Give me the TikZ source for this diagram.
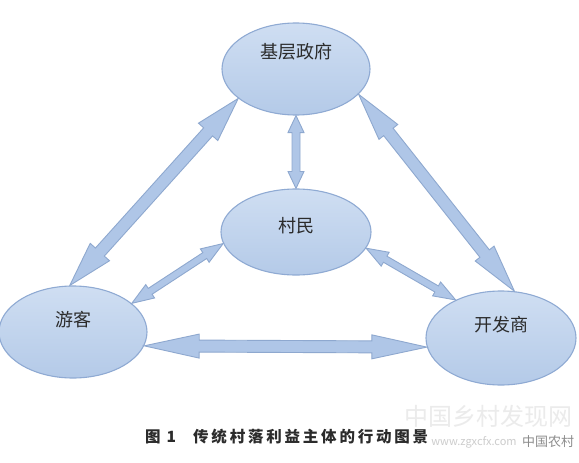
\documentclass[tikz,border=0pt]{standalone}
\usepackage{fontspec}
\setmainfont{Noto Sans CJK SC}
\usetikzlibrary{calc,shapes.geometric}
\definecolor{elltop}{HTML}{CFDEF2}
\definecolor{ellbot}{HTML}{B4CAE8}
\definecolor{elldraw}{HTML}{8FAAD3}
\definecolor{arrfill}{HTML}{AFC6E7}
\definecolor{arrdraw}{HTML}{8EA8CF}
\definecolor{txt}{HTML}{2B2B2B}
\tikzset{
  actor/.style={ellipse, draw=elldraw, line width=1.1pt, top color=elltop, bottom color=ellbot, inner sep=0pt},
  actorlabel/.style={text=txt, font=\fontsize{18}{20}\selectfont, inner sep=0pt},
  blockarrow/.style={draw=arrdraw, fill=arrfill, line width=0.9pt, line join=miter},
  captiontext/.style={text=txt, font=\fontsize{15.5}{18}\selectfont\bfseries, inner sep=0pt, anchor=west},
}
% #1 start, #2 end, #3 shaft half width, #4 head half width, #5 head length
\newcommand\dblblockarrow[5]{%
  \coordinate (ba-p) at ($(#1)!#5!(#2)$);
  \coordinate (ba-q) at ($(#2)!#5!(#1)$);
  \draw[blockarrow] (#1)
    -- ($(ba-p)!#4!90:(#2)$) -- ($(ba-p)!#3!90:(#2)$)
    -- ($(ba-q)!#3!-90:(#1)$) -- ($(ba-q)!#4!-90:(#1)$)
    -- (#2)
    -- ($(ba-q)!#4!90:(#1)$) -- ($(ba-q)!#3!90:(#1)$)
    -- ($(ba-p)!#3!-90:(#2)$) -- ($(ba-p)!#4!-90:(#2)$)
    -- cycle;}
\begin{document}
\begin{tikzpicture}[x=1pt,y=1pt]
\fill[white] (0,0) rectangle (579,-463);
\useasboundingbox (0,0) rectangle (579,-463);

% actors
\node[actor, minimum width=148pt, minimum height=92pt] (gov) at (296,-69) {};
\node[actor, minimum width=150pt, minimum height=86pt] (vil) at (296,-232) {};
\node[actor, minimum width=148pt, minimum height=92pt] (tour) at (73,-332) {};
\node[actor, minimum width=150pt, minimum height=94pt] (dev) at (501,-338) {};

\node[actorlabel] (govl) at (296,-52) {基层政府};
\node[actorlabel] (vill) at (296,-226) {村民};
\node[actorlabel] (tourl) at (73,-320) {游客};
\node[actorlabel] (devl) at (501,-325) {开发商};

% arrow end points on the ellipses
\coordinate (g1) at (gov.207);
\coordinate (t1) at (tour.94);
\coordinate (g2) at (gov.270);
\coordinate (v2) at (vil.90);
\coordinate (g3) at (gov.338);
\coordinate (d3) at (dev.74);
\coordinate (v4) at (vil.189);
\coordinate (t4) at (tour.26);
\coordinate (v5) at (vil.347);
\coordinate (d5) at (dev.140);
\coordinate (t6) at (tour.349);
\coordinate (d6) at (dev.187);

\dblblockarrow{g1}{t1}{6pt}{13pt}{45pt}
\dblblockarrow{g2}{v2}{4pt}{8pt}{17pt}
\dblblockarrow{g3}{d3}{6pt}{12pt}{48pt}
\dblblockarrow{v4}{t4}{3.5pt}{8pt}{22pt}
\dblblockarrow{v5}{d5}{3.5pt}{8pt}{22pt}
\dblblockarrow{t6}{d6}{6pt}{12pt}{55pt}

% watermark
\node[text=black!8, font=\fontsize{24}{26}\selectfont, inner sep=0pt] (wm1) at (488,-416) {中国乡村发现网};
\node[text=black!20, font=\fontsize{11}{12}\selectfont, inner sep=0pt] (wm2) at (474,-442) {www.zgxcfx.com};

% caption
\node[captiontext] (capnum) at (145,-437) {图\hspace{6pt}1};
\node[captiontext, font=\fontsize{15.5}{18}\selectfont\bfseries\addfontfeature{LetterSpace=18}] (captext) at (193,-437) {传统村落利益主体的行动图景};

\node[text=black!45, font=\fontsize{13}{14}\selectfont, inner sep=0pt, anchor=west] (wm3) at (522,-442) {中国农村};
\end{tikzpicture}
\end{document}
